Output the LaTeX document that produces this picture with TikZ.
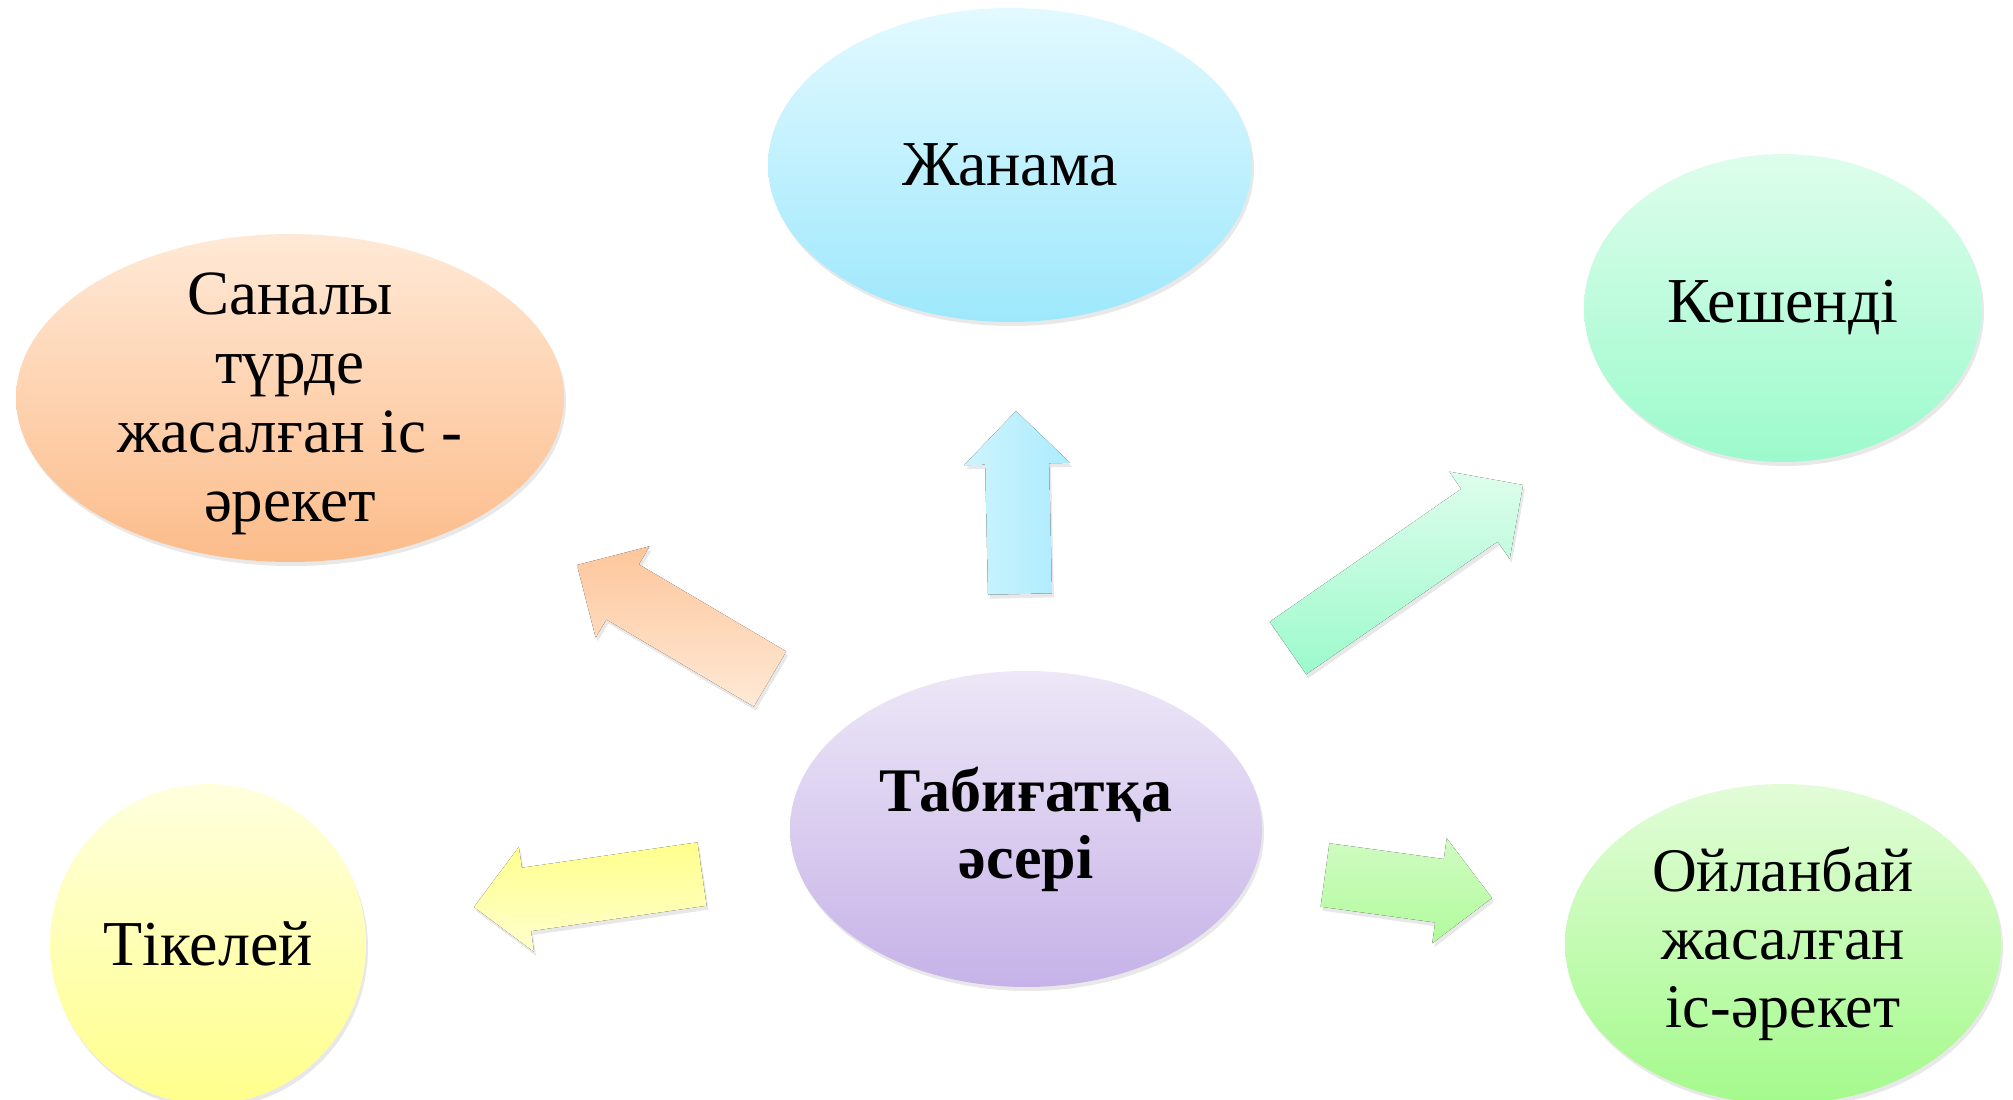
\documentclass[tikz,border=0pt]{standalone}
\usepackage{fontspec}
\setmainfont{Liberation Serif}
\usepackage{tikz}
\usetikzlibrary{shapes.geometric,shadows,calc}

\definecolor{purpleTop}{RGB}{237,231,247}
\definecolor{purpleBot}{RGB}{198,178,232}
\definecolor{blueTop}{RGB}{226,249,255}
\definecolor{blueBot}{RGB}{158,232,252}
\definecolor{mintTop}{RGB}{222,253,236}
\definecolor{mintBot}{RGB}{156,250,204}
\definecolor{peachTop}{RGB}{255,233,214}
\definecolor{peachBot}{RGB}{252,188,138}
\definecolor{lemonTop}{RGB}{255,255,222}
\definecolor{lemonBot}{RGB}{255,255,140}
\definecolor{limeTop}{RGB}{226,252,216}
\definecolor{limeBot}{RGB}{164,250,140}

\begin{document}
\begin{tikzpicture}[x=1pt,y=1pt,
  bubble/.style={ellipse,inner sep=0pt,draw=none,
    drop shadow={opacity=0.18,shadow xshift=2pt,shadow yshift=-4pt}},
  bubtext/.style={align=center,inner sep=0pt,font=\fontsize{64}{68}\selectfont},
  blockarrow/.style={drop shadow={opacity=0.18,shadow xshift=2pt,shadow yshift=-4pt}},
  arrsan/.style={blockarrow,top color=peachBot!85,bottom color=peachTop},
  arrzhan/.style={blockarrow,left color=blueTop!70!blueBot,right color=blueBot!85},
  arrkesh/.style={blockarrow,top color=mintTop,bottom color=mintBot},
  arrtik/.style={blockarrow,top color=lemonBot,bottom color=lemonTop!80!lemonBot},
  arroyl/.style={blockarrow,top color=limeTop!70!limeBot,bottom color=limeBot!85}]

  \useasboundingbox (0,0) rectangle (2013,1100);
  \clip (0,0) rectangle (2013,1100);

  \node[bubble,minimum width=472pt,minimum height=316pt,
        top color=purpleTop,bottom color=purpleBot] (cen) at (1026,271) {};
  \node[bubble,minimum width=484pt,minimum height=314pt,
        top color=blueTop,bottom color=blueBot] (zhan) at (1010,935) {};
  \node[bubble,minimum width=548pt,minimum height=328pt,
        top color=peachTop,bottom color=peachBot] (san) at (290,702) {};
  \node[bubble,minimum width=398pt,minimum height=308pt,
        top color=mintTop,bottom color=mintBot] (kesh) at (1783,792) {};
  \node[bubble,minimum width=316pt,minimum height=320pt,
        top color=lemonTop,bottom color=lemonBot] (tik) at (208,156) {};
  \node[bubble,minimum width=436pt,minimum height=320pt,
        top color=limeTop,bottom color=limeBot] (oyl) at (1783,156) {};

  \node[bubtext,font=\bfseries\fontsize{62}{67}\selectfont] (cenT) at (cen) {Табиғатқа\\әсері};
  \node[bubtext] (zhanT) at (zhan) {Жанама};
  \node[bubtext,font=\fontsize{63}{69}\selectfont] (sanT) at ([yshift=-6pt]san.center) {Саналы\\түрде\\жасалған іс -\\әрекет};
  \node[bubtext] (keshT) at (kesh) {Кешенді};
  \node[bubtext] (tikT) at (tik) {Тікелей};
  \node[bubtext,font=\fontsize{62}{68}\selectfont] (oylT) at (oyl) {Ойланбай\\жасалған\\іс-әрекет};

  \coordinate (sanTail) at (770,421);   \coordinate (sanTip) at (577,535);
  \coordinate (zhanTail) at (1020,506); \coordinate (zhanTip) at (1016,689);
  \coordinate (keshTail) at (1288,452); \coordinate (keshTip) at (1523,615);
  \coordinate (tikTail) at (702,226);   \coordinate (tikTip) at (474,193);
  \coordinate (oylTail) at (1325,225);  \coordinate (oylTip) at (1492,202);

  \foreach \tl/\hd/\sty in {sanTail/sanTip/arrsan, zhanTail/zhanTip/arrzhan,
      keshTail/keshTip/arrkesh, tikTail/tikTip/arrtik, oylTail/oylTip/arroyl} {
    \coordinate (h) at ($(\hd)!53pt!(\tl)$);
    \fill[\sty] ($(\tl)!32pt!90:(\hd)$) -- ($(h)!32pt!-90:(\tl)$)
      -- ($(h)!53pt!-90:(\tl)$) -- (\hd) -- ($(h)!53pt!90:(\tl)$)
      -- ($(h)!32pt!90:(\tl)$) -- ($(\tl)!32pt!-90:(\hd)$) -- cycle;
  }
\end{tikzpicture}
\end{document}
